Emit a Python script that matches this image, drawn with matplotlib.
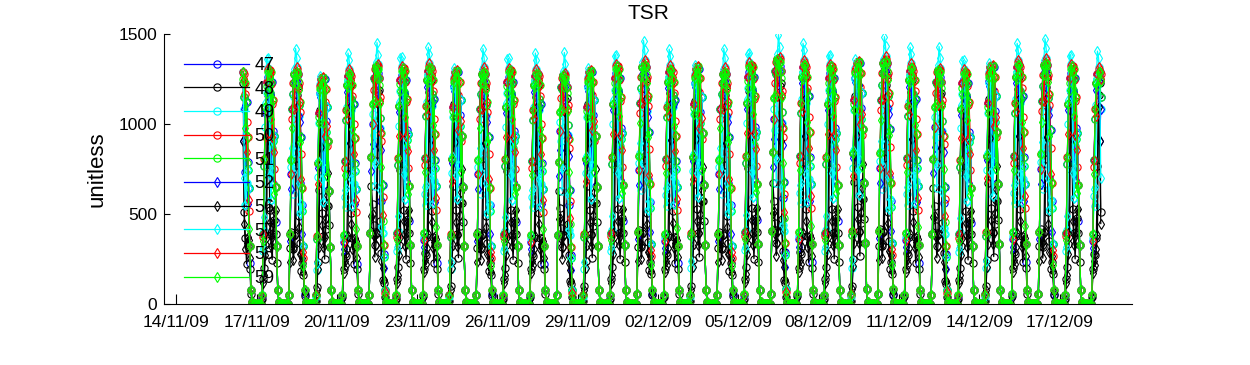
import numpy as np
import pandas as pd
import matplotlib
matplotlib.use('Agg')
import matplotlib.pyplot as plt
import matplotlib.dates as mdates

plt.rcParams['font.family'] = ['Liberation Sans', 'DejaVu Sans']

# sensor ids and their matlab style
sensors = ['47', '48', '49', '50', '51', '52', '56', '57', '58', '59']
colors = ['#0000ff', '#000000', '#00ffff', '#ff0000', '#00ff00',
          '#0000ff', '#000000', '#00ffff', '#ff0000', '#00ff00']
markers = ['o', 'o', 'o', 'o', 'o', 'd', 'd', 'd', 'd', 'd']

# days with data, 16/11/09 .. 18/12/09
days = pd.date_range('2009-11-16', '2009-12-18', freq='D')
first_hour = 12   # record starts at midday on the first day
last_hour = 13    # and stops early afternoon on the last one

# midday peak of each day (top of the column)
day_peak = [1290, 1300, 1290, 1260, 1280, 1320, 1310, 1310, 1300, 1290, 1300,
            1280, 1270, 1300, 1320, 1330, 1300, 1320, 1290, 1330, 1360, 1330,
            1320, 1350, 1350, 1310, 1300, 1290, 1330, 1330, 1340, 1320, 1290]

# hour offset of the cloudy/shaded spells per day
day_shift = [0, 1, -1, 2, 0, -2, 1, 0, 2, -1, 1, 0, -2, 2, 1, -1, 0,
             2, -1, 1, -2, 0, 1, 2, -1, 0, -2, 1, 2, 0, -1, 1, 0]

# clear sky shape, hours 0..23
clear_sky = [0, 0, 0, 0, 0, 0.04, 0.30, 0.62, 0.84, 0.95, 0.99, 1.0,
             1.0, 0.99, 0.95, 0.87, 0.72, 0.50, 0.25, 0.06, 0.01, 0, 0, 0]

# hourly shading of each sensor, hours 0..23
shade = {
    '47': [1, 1, 1, 1, 1, 1, 0.9, 1, 0.95, 1, 1, 0.98, 1, 0.9, 0.6, 1, 0.85, 1, 0.7, 1, 1, 1, 1, 1],
    '48': [1, 1, 1, 1, 1, 0.8, 0.5, 0.35, 0.25, 0.3, 0.6, 0.9, 0.95, 0.4, 0.3, 0.2, 0.35, 0.5, 0.6, 0.7, 1, 1, 1, 1],
    '49': [1, 1, 1, 1, 1, 1, 0.95, 0.75, 0.5, 0.9, 0.95, 1.02, 1.0, 0.85, 0.45, 0.6, 0.8, 1, 1, 1, 1, 1, 1, 1],
    '50': [1, 1, 1, 1, 1, 1, 1, 0.95, 1, 1, 1, 1.01, 1, 1, 0.95, 0.9, 1, 0.8, 1, 1, 1, 1, 1, 1],
    '51': [1, 1, 1, 1, 1, 1, 1, 1, 0.95, 1, 0.98, 1, 0.97, 0.9, 1, 0.7, 0.8, 1, 1, 1, 1, 1, 1, 1],
    '52': [1, 1, 1, 1, 1, 0.9, 0.8, 1, 1, 0.97, 1, 0.96, 0.7, 0.85, 0.9, 1, 0.6, 1, 1, 1, 1, 1, 1, 1],
    '56': [1, 1, 1, 1, 1, 0.6, 0.45, 0.3, 0.2, 0.25, 0.3, 0.85, 0.7, 0.35, 0.25, 0.3, 0.4, 0.55, 0.8, 1, 1, 1, 1, 1],
    '57': [1, 1, 1, 1, 1, 1, 1, 0.8, 0.6, 1.02, 1.1, 1.06, 1.0, 0.55, 0.45, 0.6, 0.8, 1, 1, 1, 1, 1, 1, 1],
    '58': [1, 1, 1, 1, 1, 1, 0.9, 1, 1, 0.85, 1, 1.02, 1, 0.98, 1, 0.75, 1, 0.9, 1, 1, 1, 1, 1, 1],
    '59': [1, 1, 1, 1, 1, 1, 1, 0.9, 1, 1, 0.95, 1, 1, 0.97, 0.8, 1, 1, 0.65, 1, 1, 1, 1, 1, 1],
}

xtick_dates = pd.date_range('2009-11-14', '2009-12-17', freq='3D')


def sensor_series(sid):
    times = []
    vals = []
    for d, day in enumerate(days):
        for h in range(24):
            if d == 0 and h < first_hour:
                continue
            if d == len(days) - 1 and h > last_hour:
                continue
            times.append(day + pd.Timedelta(hours=h))
            s = shade[sid][(h + day_shift[d]) % 24]
            vals.append(day_peak[d] * clear_sky[h] * s)
    return times, vals


fig = plt.figure(figsize=(12.5, 3.65), dpi=100)
ax = fig.add_axes([0.1312, 0.167, 0.7744, 0.74])

for sid, c, m in zip(sensors, colors, markers):
    t, v = sensor_series(sid)
    ax.plot(t, v, color=c, marker=m, markerfacecolor='none',
            markersize=5.2 if m == 'o' else 4.6, markeredgewidth=0.8,
            linewidth=0.9, label=sid)

ax.set_ylim(0, 1500)
ax.set_yticks([0, 500, 1000, 1500])
ax.set_xlim(pd.Timestamp('2009-11-13 13:00'), pd.Timestamp('2009-12-19 17:00'))
ax.set_xticks(xtick_dates)
ax.xaxis.set_major_formatter(mdates.DateFormatter('%d/%m/%y'))

ax.spines['top'].set_visible(False)
ax.spines['right'].set_visible(False)
ax.tick_params(direction='in', labelsize=12.5, width=0.8)
ax.tick_params(axis='x', length=7, pad=8)
ax.tick_params(axis='y', length=4.5, pad=5)

ax.set_title('TSR', fontsize=15, pad=11)
ax.set_ylabel('unitless', fontsize=16, labelpad=8)

ax.legend(loc='upper left', bbox_to_anchor=(0.021, 0.915), frameon=False,
          fontsize=13, numpoints=1, handlelength=3.6, handletextpad=0.3,
          labelspacing=0.37, borderpad=0, borderaxespad=0)

fig.savefig('out.png', dpi=100)
